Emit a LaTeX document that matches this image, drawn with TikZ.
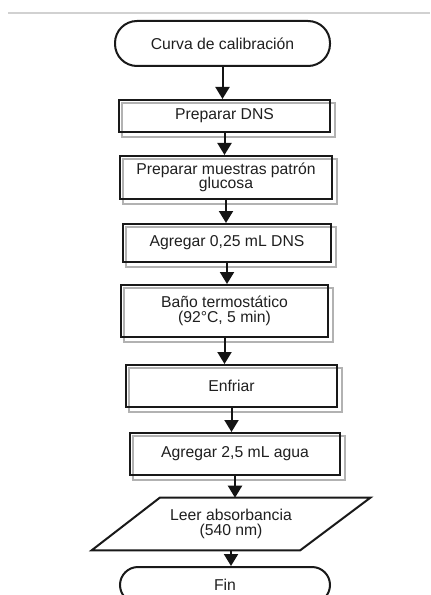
\documentclass[tikz,border=0pt]{standalone}
\usepackage{fontspec}
\setmainfont{Liberation Sans}
\usetikzlibrary{arrows.meta,backgrounds,calc}
\begin{document}
\begin{tikzpicture}[x=0.75pt,y=-0.75pt,
  txt/.style={font=\fontsize{11.8}{11}\selectfont, text=black!88, align=center, inner sep=0pt},
  term/.style={txt, draw=black!90, line width=1.5pt, rounded corners=16.5pt, minimum width=158pt, minimum height=33.75pt},
  proc/.style={txt, draw=black!90, line width=1.5pt},
  shadowline/.style={draw=black!30, line width=1.1pt},
  arr/.style={draw=black!92, line width=1.5pt, -{Triangle[width=10.5pt,length=9pt]}}]
\useasboundingbox (0,0) rectangle (430,595);
\clip (0,0) rectangle (430,595);
% top rule
\draw[draw=black!18, line width=1.6pt] (8,13) -- (430,13);
% nodes
\node[term, minimum width=161.25pt] (start) at (222.5,43.5) {Curva de calibración};
\node[proc, minimum width=158.25pt, minimum height=24pt] (b1) at (224.5,116) {Preparar DNS};
\node[proc, minimum width=159pt, minimum height=32.25pt] (b2) at (226,177.5) {Preparar muestras patrón\\glucosa};
\node[proc, minimum width=156pt, minimum height=28.5pt] (b3) at (227,243) {Agregar 0,25 mL DNS};
\node[proc, minimum width=155.25pt, minimum height=39pt] (b4) at (224.5,311) {Baño termostático\\(92°C, 5 min)};
\node[proc, minimum width=158.25pt, minimum height=31.5pt] (b5) at (231.5,386) {Enfriar};
\node[proc, minimum width=157.5pt, minimum height=31.5pt] (b6) at (235,454) {Agregar 2,5 mL agua};
\node[txt, minimum width=157.5pt, minimum height=39pt] (read) at (231,524) {Leer absorbancia\\(540 nm)};
\node[term, minimum width=157.5pt, minimum height=27pt, rounded corners=13.5pt] (fin) at (225,585) {Fin};
% parallelogram
\draw[draw=black!90, line width=1.5pt]
  ($(read.north west)+(34,0)$) -- ($(read.north east)+(34,0)$) --
  ($(read.south east)+(-36,0)$) -- ($(read.south west)+(-34,0)$) -- cycle;
% shadow copies
\begin{scope}[on background layer]
\foreach \n in {b1,b2,b3,b4,b5,b6}{
  \draw[shadowline] ([shift={(4,4)}]\n.north west) rectangle ([shift={(4,4)}]\n.south east);
}
\end{scope}
% connectors
\draw[arr] (start.south) -- (start.south |- b1.north);
\draw[arr] (b1.south) -- (b1.south |- b2.north);
\draw[arr] (b2.south) -- (b2.south |- b3.north);
\draw[arr] (b3.south) -- (b3.south |- b4.north);
\draw[arr] (b4.south) -- (b4.south |- b5.north);
\draw[arr] (b5.south) -- (b5.south |- b6.north);
\draw[arr] (b6.south) -- (b6.south |- read.north);
\draw[arr] (read.south) -- (read.south |- fin.north);
\end{tikzpicture}
\end{document}
